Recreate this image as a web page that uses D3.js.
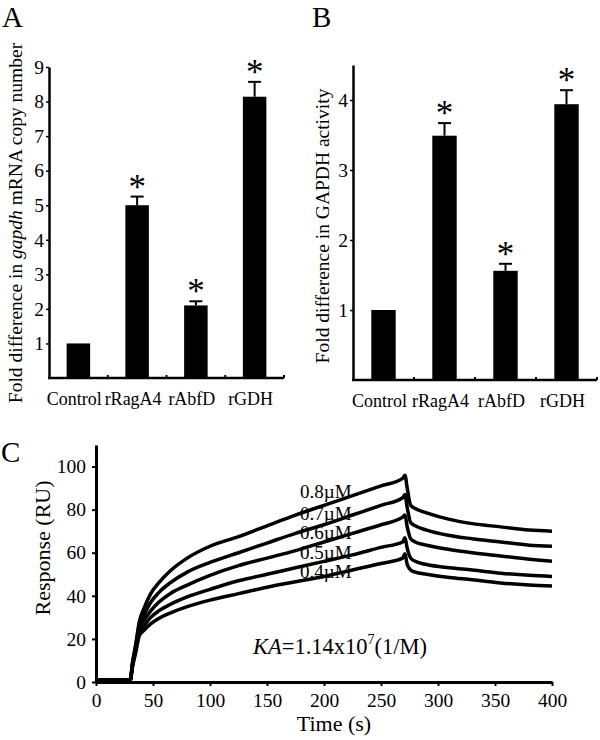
<!DOCTYPE html>
<html lang="en">
<head>
<meta charset="utf-8">
<title>gapdh / GAPDH / SPR</title>
<style>
  body { margin: 0; background: #fff; }
  svg { display: block; font-family: 'Liberation Serif', 'Times New Roman', serif; }
  .axis path, .axis line { stroke: #000; }
  .axis text { fill: #000; font-family: 'Liberation Serif', 'Times New Roman', serif; }
</style>
</head>
<body>
<svg width="600" height="740"></svg>
<script src="https://cdn.jsdelivr.net/npm/d3@7"></script>
<script>
// ---- data ----
var categories = ['Control', 'rRagA4', 'rAbfD', 'rGDH'];

var mrnaMeans = [1, 5.0, 2.1, 8.14];
var mrnaErrors = [0, 0.25, 0.12, 0.43];
var mrnaStars = [false, true, true, true];
var mrnaTicks = [1, 2, 3, 4, 5, 6, 7, 8, 9];

var activityMeans = [1, 3.49, 1.56, 3.94];
var activityErrors = [0, 0.18, 0.1, 0.2];
var activityStars = [false, true, true, true];
var activityTicks = [1, 2, 3, 4];

var concentrations = ['0.8\u00b5M', '0.7\u00b5M', '0.6\u00b5M', '0.5\u00b5M', '0.4\u00b5M'];
var times = [0, 30, 32, 35, 38, 42, 48, 55, 65, 80, 100, 125, 150, 175, 200, 225, 250, 269, 271, 273, 276, 280, 290, 310, 330, 355, 380, 400];
var resp08 = [0.8, 0.8, 9, 18, 28, 34, 41, 46, 51.5, 57.5, 63, 67.5, 72.5, 77.5, 82, 86.5, 91, 94.5, 96, 90, 82, 80.5, 78.5, 75.5, 73.5, 72, 70.5, 70];
var resp07 = [0.8, 0.8, 8.5, 17, 26.5, 31, 37, 41.5, 46, 51, 55.5, 60, 64.5, 69, 73, 77.5, 82, 85.5, 87, 81, 74, 72.5, 70.5, 68, 66.5, 65, 63.5, 63];
var resp06 = [0.8, 0.8, 8, 16, 25, 28.5, 33, 37, 41, 45, 49.5, 54, 57.5, 61, 65, 69, 73, 76.5, 77.5, 72, 66.5, 65, 63.5, 61.5, 60, 58.5, 57, 56];
var resp05 = [0.8, 0.8, 7.5, 15, 23.5, 26, 30, 33, 36, 39.5, 43, 47, 50, 53, 56, 59, 62.5, 65, 67, 62, 57.5, 56, 54.5, 53, 52, 50.5, 49.5, 49];
var resp04 = [0.8, 0.8, 7, 14, 21.5, 24, 27, 29.5, 32, 35, 38, 41, 44, 46.5, 49, 52, 55, 57.5, 59.5, 54.5, 52, 51, 50, 48.5, 47.5, 46, 45, 44.5];
var responses = [resp08, resp07, resp06, resp05, resp04];
var timeTicks = [0, 50, 100, 150, 200, 250, 300, 350, 400];
var responseTicks = [0, 20, 40, 60, 80, 100];

var svg = d3.select('svg');

// ---- bar panels (A, B) ----
function barPanel(opt) {
	var g = svg.append('g');

	var x = d3.scaleBand()
		.domain(categories)
		.range(opt.xRange)
		.paddingInner(0.6)
		.paddingOuter(0.3);

	var y = d3.scaleLinear()
		.domain(opt.yDomain)
		.range(opt.yRange);

	var mid = function(i) { return x(categories[i]) + x.bandwidth() / 2; };
	var rows = opt.means.map(function(m, i) {
		return { i: i, mean: m, err: opt.errors[i], star: opt.stars[i] };
	});

	// bars
	g.selectAll('rect.bar')
		.data(rows)
		.enter()
		.append('rect')
		.attr('class', 'bar')
		.attr('x', function(d) { return x(categories[d.i]); })
		.attr('width', x.bandwidth())
		.attr('y', function(d) { return y(d.mean); })
		.attr('height', function(d) { return y(0) - y(d.mean); })
		.attr('fill', '#000');

	// error bars
	var err = g.selectAll('g.err')
		.data(rows.filter(function(d) { return d.err > 0; }))
		.enter()
		.append('g')
		.attr('class', 'err');

	err.append('line')
		.attr('x1', function(d) { return mid(d.i); })
		.attr('x2', function(d) { return mid(d.i); })
		.attr('y1', function(d) { return y(d.mean); })
		.attr('y2', function(d) { return y(d.mean + d.err); })
		.attr('stroke', '#000')
		.attr('stroke-width', 2);

	err.append('line')
		.attr('x1', function(d) { return mid(d.i) - 6.5; })
		.attr('x2', function(d) { return mid(d.i) + 6.5; })
		.attr('y1', function(d) { return y(d.mean + d.err); })
		.attr('y2', function(d) { return y(d.mean + d.err); })
		.attr('stroke', '#000')
		.attr('stroke-width', 2);

	// significance stars
	g.selectAll('text.star')
		.data(rows.filter(function(d) { return d.star; }))
		.enter()
		.append('text')
		.attr('class', 'star')
		.attr('x', function(d) { return mid(d.i); })
		.attr('y', function(d) { return y(d.mean + d.err) + 2; })
		.attr('text-anchor', 'middle')
		.attr('font-size', 35)
		.text('*');

	// y axis
	var yAxis = g.append('g')
		.attr('class', 'axis')
		.attr('transform', 'translate(' + opt.xRange[0] + ',0)')
		.call(d3.axisLeft(y).tickValues(opt.ticks).tickSize(3).tickSizeOuter(0).tickPadding(2).tickFormat(d3.format('d')));
	yAxis.select('.domain').attr('stroke-width', 2.5);
	yAxis.selectAll('.tick line').attr('stroke-width', 1.5);
	yAxis.selectAll('text').attr('font-size', 19.5);

	// x axis line with small marks between groups
	g.append('line')
		.attr('x1', opt.xRange[0] - 1)
		.attr('x2', opt.xRange[1])
		.attr('y1', y(0))
		.attr('y2', y(0))
		.attr('stroke', '#000')
		.attr('stroke-width', 2.5);

	var edges = categories.map(function(c) { return x(c) - x.step() * 0.3; }).concat([opt.xRange[1]]);
	g.selectAll('line.mark')
		.data(edges.slice(1))
		.enter()
		.append('line')
		.attr('class', 'mark')
		.attr('x1', function(d) { return d; })
		.attr('x2', function(d) { return d; })
		.attr('y1', y(0))
		.attr('y2', y(0) - 3)
		.attr('stroke', '#000')
		.attr('stroke-width', 2);

	// category labels
	g.selectAll('text.cat')
		.data(categories)
		.enter()
		.append('text')
		.attr('class', 'cat')
		.attr('x', function(d) { return x(d) + x.bandwidth() / 2 - 4; })
		.attr('y', y(0) + 27)
		.attr('text-anchor', 'middle')
		.attr('font-size', 18)
		.text(function(d) { return d; });

	// y title
	var title = g.append('text')
		.attr('transform', 'translate(' + opt.titleX + ',' + opt.titleY + ') rotate(-90)')
		.attr('text-anchor', 'middle')
		.attr('font-size', 19.5);
	opt.title.forEach(function(part) {
		title.append('tspan')
			.attr('font-style', part[1] ? 'italic' : 'normal')
			.text(part[0]);
	});

	// panel letter
	svg.append('text')
		.attr('x', opt.letterX)
		.attr('y', opt.letterY)
		.attr('font-size', 29)
		.text(opt.letter);
}

barPanel({
	xRange: [49, 284], yRange: [378, 67], yDomain: [0, 9],
	means: mrnaMeans, errors: mrnaErrors, stars: mrnaStars, ticks: mrnaTicks,
	title: [['Fold difference in ', false], ['gapdh', true], [' mRNA copy number', false]],
	titleX: 22, titleY: 223,
	letter: 'A', letterX: 2, letterY: 27
});

barPanel({
	xRange: [353, 597], yRange: [380, 65], yDomain: [0, 4.5],
	means: activityMeans, errors: activityErrors, stars: activityStars, ticks: activityTicks,
	title: [['Fold difference in GAPDH activity', false]],
	titleX: 329, titleY: 226,
	letter: 'B', letterX: 312, letterY: 27
});

// ---- panel C: binding curves ----
var cx = d3.scaleLinear().domain([0, 400]).range([96, 552]);
var cy = d3.scaleLinear().domain([0, 110]).range([682, 445]);

var gc = svg.append('g');

var line = d3.line()
	.x(function(d) { return cx(d[0]); })
	.y(function(d) { return cy(d[1]); })
	.curve(d3.curveMonotoneX);

gc.selectAll('path.curve')
	.data(responses)
	.enter()
	.append('path')
	.attr('class', 'curve')
	.attr('d', function(vals) {
		return line(times.map(function(t, i) { return [t, vals[i]]; }));
	})
	.attr('fill', 'none')
	.attr('stroke', '#000')
	.attr('stroke-width', 3.5)
	.attr('stroke-linejoin', 'round');

// concentration labels (sit on the curves)
var labelBaselines = [498, 520, 539, 559, 578];
gc.selectAll('text.conc')
	.data(concentrations)
	.enter()
	.append('text')
	.attr('class', 'conc')
	.attr('x', 300)
	.attr('y', function(d, i) { return labelBaselines[i]; })
	.attr('font-size', 19)
	.text(function(d) { return d; });

var xAxisC = gc.append('g')
	.attr('class', 'axis')
	.attr('transform', 'translate(0,' + cy(0) + ')')
	.call(d3.axisBottom(cx).tickValues(timeTicks).tickSize(4).tickSizeOuter(0).tickPadding(7));
xAxisC.select('.domain').attr('stroke-width', 3);
xAxisC.selectAll('.tick line').attr('stroke-width', 2);
xAxisC.selectAll('text').attr('font-size', 19.5);

var yAxisC = gc.append('g')
	.attr('class', 'axis')
	.attr('transform', 'translate(' + cx(0) + ',0)')
	.call(d3.axisLeft(cy).tickValues(responseTicks).tickSize(4).tickSizeOuter(0).tickPadding(6));
yAxisC.select('.domain').attr('stroke-width', 3);
yAxisC.selectAll('.tick line').attr('stroke-width', 2);
yAxisC.selectAll('text').attr('font-size', 19.5);

gc.append('text')
	.attr('x', 334)
	.attr('y', 731)
	.attr('text-anchor', 'middle')
	.attr('font-size', 22)
	.text('Time (s)');

gc.append('text')
	.attr('transform', 'translate(50,548) rotate(-90)')
	.attr('text-anchor', 'middle')
	.attr('font-size', 22)
	.text('Response (RU)');

var ka = gc.append('text')
	.attr('x', 253)
	.attr('y', 654)
	.attr('font-size', 22.5);
ka.append('tspan').attr('font-style', 'italic').text('KA');
ka.append('tspan').text('=1.14x10');
ka.append('tspan').attr('font-size', 14).attr('dy', -10).text('7');
ka.append('tspan').attr('dy', 10).text('(1/M)');

svg.append('text')
	.attr('x', 1)
	.attr('y', 462)
	.attr('font-size', 29)
	.text('C');
</script>
</body>
</html>
